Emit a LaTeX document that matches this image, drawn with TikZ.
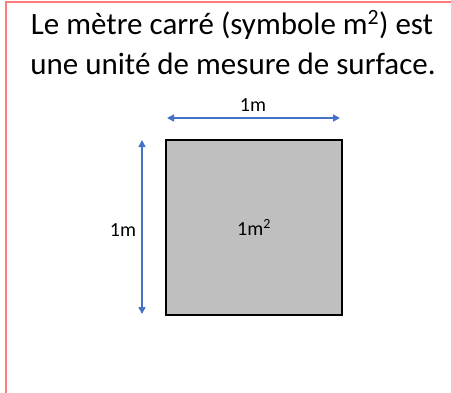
\documentclass[tikz,border=0pt]{standalone}
\usepackage{fontspec}
\setmainfont{Carlito}
\usetikzlibrary{arrows.meta}
\definecolor{frame}{RGB}{255,122,122}
\definecolor{dimblue}{RGB}{68,114,196}
\definecolor{sqgray}{RGB}{191,191,191}
\begin{document}
\begin{tikzpicture}[x=1pt,y=-1pt,
  dimline/.style={draw=dimblue,line width=1.6pt,{Triangle[length=7pt,width=7pt]}-{Triangle[length=7pt,width=7pt]}},
  dimlabel/.style={font=\fontsize{20}{24}\selectfont,inner sep=0pt},
  title/.style={font=\fontsize{31}{38}\selectfont,inner sep=0pt,anchor=base}]
\useasboundingbox (0,0) rectangle (451,392);
\draw[frame,line width=2pt] (6,2) rectangle (460,400);
\node[title] (t1) at (232,34) {Le mètre carré (symbole m\textsuperscript{2}) est};
\node[title] (t2) at (233,74) {une unité de mesure de surface.};
\node[draw=black,fill=sqgray,line width=2pt,minimum width=176pt,minimum height=175pt,inner sep=0pt,font=\fontsize{20}{24}\selectfont] (sq) at (254,227.5) {1m\textsuperscript{2}};
\coordinate (hl) at (167,118);
\coordinate (hr) at (340,118);
\coordinate (vt) at (142,140);
\coordinate (vb) at (142,314);
\draw[dimline] (hl) -- (hr);
\draw[dimline] (vt) -- (vb);
\node[dimlabel] (hlab) at (253,105) {1m};
\node[dimlabel] (vlab) at (123,230) {1m};
\end{tikzpicture}
\end{document}
